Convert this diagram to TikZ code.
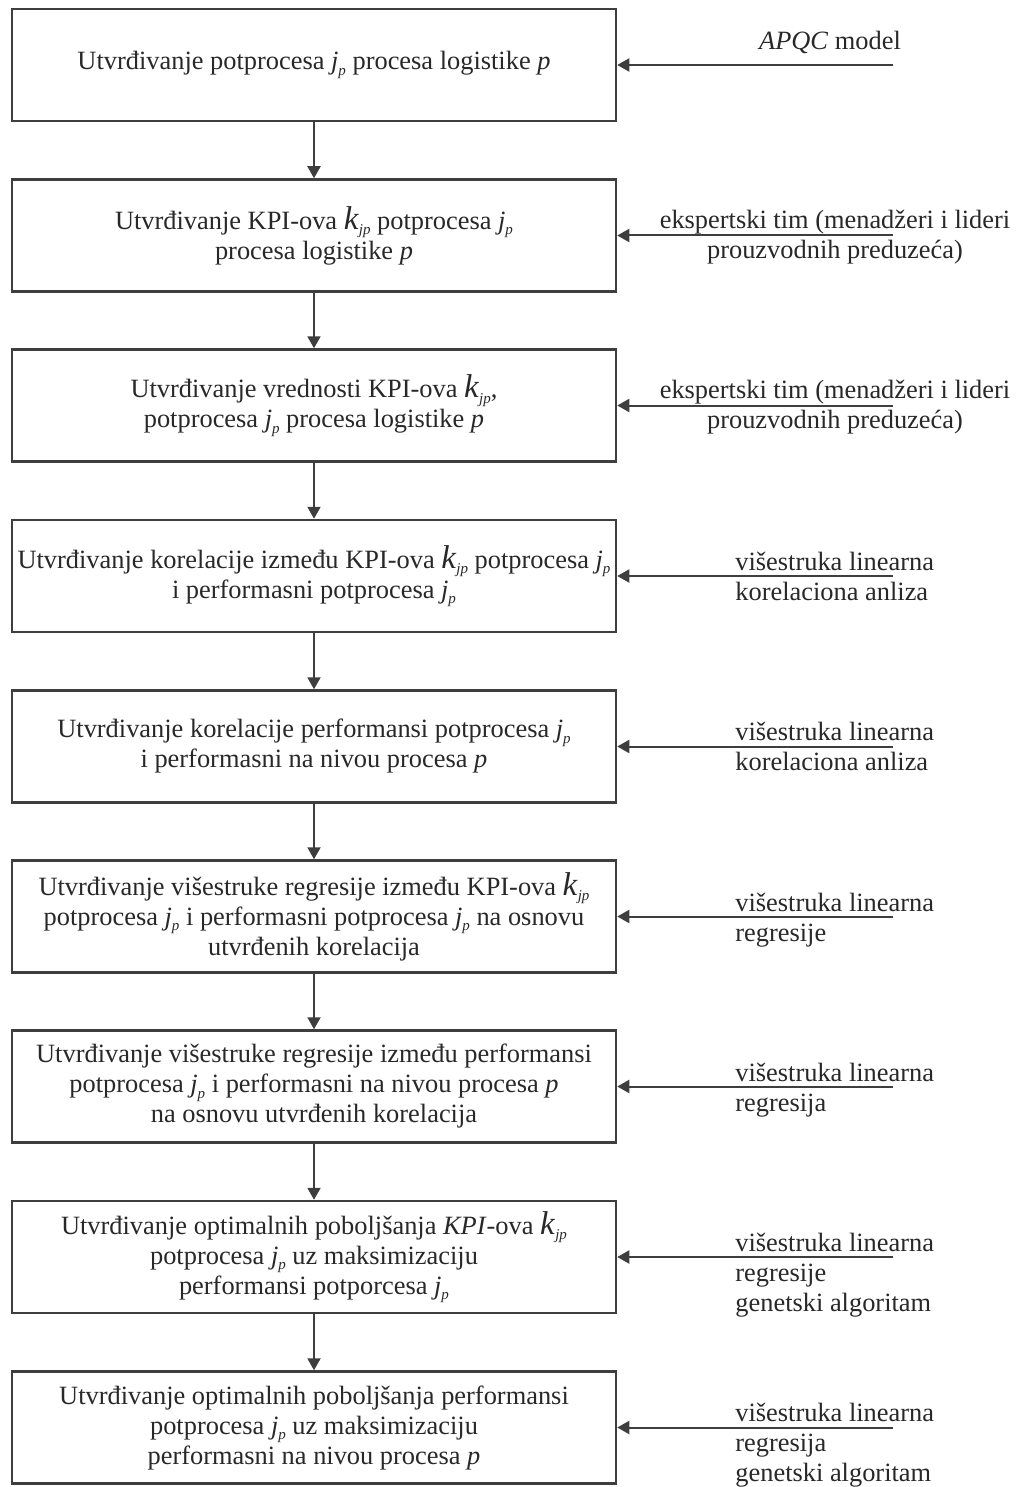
\documentclass[tikz,border=0pt]{standalone}
\usepackage{fontspec}
\setmainfont{Liberation Serif}
\usetikzlibrary{arrows.meta}
\definecolor{flowline}{RGB}{62,62,62}
\definecolor{flowtext}{RGB}{40,40,40}
\newcommand{\idx}[1]{\raisebox{-0.45ex}{\fontsize{7.5}{7.5}\selectfont\textit{#1}}}
\newcommand{\jp}{\textit{j}\idx{p}}
\newcommand{\kjp}{{\fontsize{16.5}{16}\selectfont\textit{k}}\idx{jp}}
\newcommand{\pp}{\textit{p}}

\tikzset{
  stepbox/.style={draw=flowline, line width=1.25pt, minimum width=302pt,
    minimum height=56pt, align=center, inner sep=0pt, text=flowtext},
  flowarrow/.style={draw=flowline, line width=1pt,
    -{Triangle[length=6pt,width=6.5pt]}},
  srclabel/.style={text=flowtext, inner sep=0pt},
}

\begin{document}
\begin{tikzpicture}[x=0.5pt, y=-0.5pt, font=\fontsize{13.2}{15}\selectfont]

\useasboundingbox (0,0) rectangle (1018,1487);

% ===== steps =====
\node[stepbox] (b1) at (314,65)
  {Utvrđivanje potprocesa \jp{} procesa logistike \pp};
\node[stepbox] (b2) at (314,235.5)
  {Utvrđivanje KPI-ova \kjp{} potprocesa \jp\\procesa logistike \pp};
\node[stepbox] (b3) at (314,405.5)
  {Utvrđivanje vrednosti KPI-ova \kjp,\\potprocesa \jp{} procesa logistike \pp};
\node[stepbox] (b4) at (314,576)
  {Utvrđivanje korelacije između KPI-ova \kjp{} potprocesa \jp\\i performasni potprocesa \jp};
\node[stepbox] (b5) at (314,746.5)
  {Utvrđivanje korelacije performansi potprocesa \jp\\i performasni na nivou procesa \pp};
\node[stepbox] (b6) at (314,916.5)
  {Utvrđivanje višestruke regresije između KPI-ova \kjp\\potprocesa \jp{} i performasni potprocesa \jp{} na osnovu\\utvrđenih korelacija};
\node[stepbox] (b7) at (314,1086.5)
  {Utvrđivanje višestruke regresije između performansi\\potprocesa \jp{} i performasni na nivou procesa \pp\\na osnovu utvrđenih korelacija};
\node[stepbox] (b8) at (314,1257)
  {Utvrđivanje optimalnih poboljšanja \textit{KPI}-ova \kjp\\potprocesa \jp{} uz maksimizaciju\\performansi potporcesa \jp};
\node[stepbox] (b9) at (314,1427.5)
  {Utvrđivanje optimalnih poboljšanja performansi\\potprocesa \jp{} uz maksimizaciju\\performasni na nivou procesa \pp};

\foreach \i/\j in {1/2,2/3,3/4,4/5,5/6,6/7,7/8,8/9}
  \draw[flowarrow] (b\i) -- (b\j);

% ===== inputs on the right (base = last line) =====
\node[srclabel, anchor=base] (s1) at (830,50) {\textit{APQC} model};
\node[srclabel, anchor=base, align=center] (s2) at (835,258)
  {ekspertski tim (menadžeri i lideri\\prouzvodnih preduzeća)};
\node[srclabel, anchor=base, align=center] (s3) at (835,428)
  {ekspertski tim (menadžeri i lideri\\prouzvodnih preduzeća)};
\node[srclabel, anchor=base west, align=left] (s4) at (735,600)
  {višestruka linearna\\korelaciona anliza};
\node[srclabel, anchor=base west, align=left] (s5) at (735,770)
  {višestruka linearna\\korelaciona anliza};
\node[srclabel, anchor=base west, align=left] (s6) at (735,941)
  {višestruka linearna\\regresije};
\node[srclabel, anchor=base west, align=left] (s7) at (735,1111)
  {višestruka linearna\\regresija};
\node[srclabel, anchor=base west, align=left] (s8) at (735,1311)
  {višestruka linearna\\regresije\\genetski algoritam};
\node[srclabel, anchor=base west, align=left] (s9) at (735,1481)
  {višestruka linearna\\regresija\\genetski algoritam};

\foreach \i in {1,...,9} {
  \coordinate (in\i) at ([xshift=138pt]b\i.east);
  \draw[flowarrow] (in\i) -- (b\i.east);
}

\end{tikzpicture}
\end{document}
